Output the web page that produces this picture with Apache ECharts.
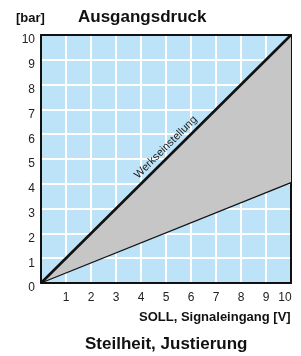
<!DOCTYPE html>
<html>
<head>
<meta charset="utf-8">
<script src="https://cdn.jsdelivr.net/npm/echarts@6/dist/echarts.min.js"></script>
<style>html,body{margin:0;padding:0;background:#fff}#c{width:301px;height:356px}</style>
</head>
<body>
<div id="c"></div>
<script>
// Data
var signalV = [0, 10];               // SOLL, Signaleingang [V]
var werkseinstellung = [0, 10];      // upper line (bar)
var minSteilheit = [0, 4.05];        // lower line (bar)
var xTicks = [1,2,3,4,5,6,7,8,9,10];
var yTicks = [0,1,2,3,4,5,6,7,8,9,10];
var lineLabel = 'Werkseinstellung';
var titleTop = 'Ausgangsdruck';
var titleBottom = 'Steilheit, Justierung';
var yUnit = '[bar]';
var xName = 'SOLL, Signaleingang [V]';

var FF = '"Liberation Sans", Arial, Helvetica, sans-serif';
var upperData = signalV.map(function(x,i){return [x, werkseinstellung[i]];});
var lowerData = signalV.map(function(x,i){return [x, minSteilheit[i]];});
var last = signalV.length-1;

var chart = echarts.init(document.getElementById('c'), null, {renderer:'canvas'});
var frameAxis = {axisLine:{show:true,onZero:false,lineStyle:{color:'#111',width:2}},axisTick:{show:false},axisLabel:{show:false},splitLine:{show:false}};
chart.setOption({
  animation:false,
  backgroundColor:'#ffffff',
  textStyle:{fontFamily:FF},
  title:[
    {text:yUnit, left:16, top:12, padding:0, textStyle:{fontFamily:FF,fontSize:13,fontWeight:'bold',color:'#111'}},
    {text:titleTop, left:78, top:9, padding:0, textStyle:{fontFamily:FF,fontSize:17,fontWeight:'bold',color:'#111'}},
    {text:xName, left:139, top:311, padding:0, textStyle:{fontFamily:FF,fontSize:13,fontWeight:'bold',color:'#111'}},
    {text:titleBottom, left:85, top:336, padding:0, textStyle:{fontFamily:FF,fontSize:17,fontWeight:'bold',color:'#111'}}
  ],
  grid:{left:41,right:10,top:35,bottom:73,show:true,backgroundColor:'#bde3f8',borderWidth:0},
  xAxis:[{type:'value',min:0,max:10,interval:1,
    axisLine:{show:true,onZero:false,lineStyle:{color:'#111',width:2}},axisTick:{show:false},
    splitLine:{show:true,lineStyle:{color:'#ffffff',width:2}},
    axisLabel:{margin:9,fontFamily:FF,fontSize:12,color:'#222',
      formatter:function(v){ if(xTicks.indexOf(v)<0) return ''; return v===10?'{r|10}':String(v);},
      rich:{r:{fontFamily:FF,fontSize:12,color:'#222',padding:[0,12,0,0]}}}
  },
  Object.assign({type:'value',min:0,max:10,interval:1,position:'top'}, frameAxis)],
  yAxis:[{type:'value',min:0,max:10,interval:1,
    axisLine:{show:true,onZero:false,lineStyle:{color:'#111',width:2}},axisTick:{show:false},
    splitLine:{show:true,lineStyle:{color:'#ffffff',width:2}},
    axisLabel:{margin:6,fontFamily:FF,fontSize:12,color:'#222',verticalAlign:'top',lineHeight:10,
      formatter:function(v){return yTicks.indexOf(v)<0?'':String(v);}}
  },
  Object.assign({type:'value',min:0,max:10,interval:1,position:'right'}, frameAxis)],
  series:[
    {type:'custom',name:'band',z:2,silent:true,
     data:[0],
     renderItem:function(params, api){
       var pts=[];
       for(var i=0;i<signalV.length;i++) pts.push(api.coord([signalV[i], werkseinstellung[i]]));
       for(var j=signalV.length-1;j>=0;j--) pts.push(api.coord([signalV[j], minSteilheit[j]]));
       return {type:'polygon',shape:{points:pts},style:{fill:'#c6c6c6',stroke:null}};
     }},
    {type:'line',name:'min',data:lowerData,symbol:'none',
     lineStyle:{color:'#111',width:1.3},z:3},
    {type:'line',name:'Werkseinstellung',data:upperData,symbol:'none',
     lineStyle:{color:'#111',width:2.6},z:4,
     markLine:{silent:true,symbol:'none',
       lineStyle:{color:'rgba(0,0,0,0)',width:1},
       label:{show:true,position:'insideMiddleTop',distance:3,formatter:'{a|'+lineLabel+'}',
         rich:{a:{fontFamily:FF,fontSize:11,color:'#222',padding:[0,0,0,16]}}},
       data:[[{coord:[signalV[0],werkseinstellung[0]]},{coord:[signalV[last],werkseinstellung[last]]}]]
     }}
  ]
});
</script>
</body>
</html>
